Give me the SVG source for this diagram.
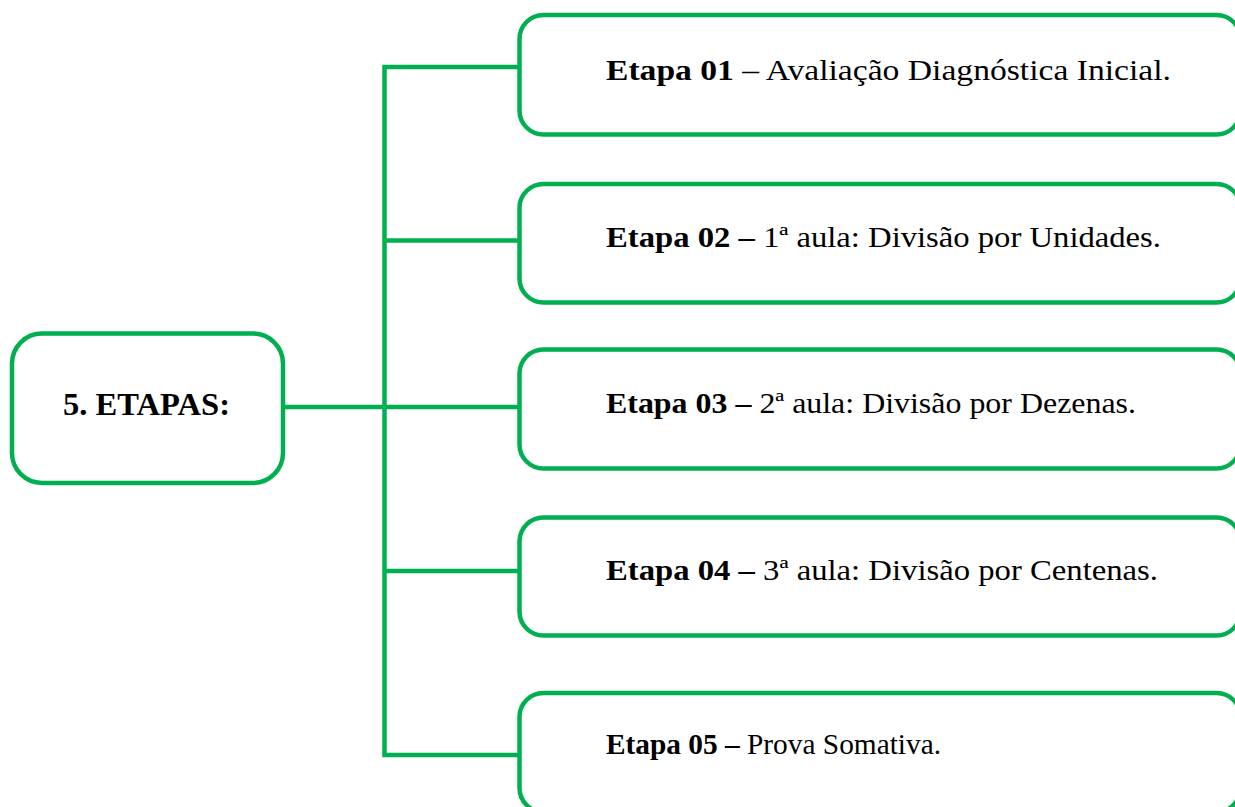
<svg xmlns="http://www.w3.org/2000/svg" width="1235" height="807" viewBox="0 0 1235 807">
<style>
.box{fill:#fff;stroke:#00b050;stroke-width:4.5}
.con{fill:none;stroke:#00b050;stroke-width:4.5}
text{font-family:"Liberation Serif","Times New Roman",serif;fill:#000}
.t{font-size:30px}
.b{font-weight:bold}
.main{font-size:31px;font-weight:bold}
</style>
<g id="connectors">
<path class="con" d="M283,407 H519"/>
<path class="con" d="M519,67 H384.5 V755 H519"/>
<path class="con" d="M384.5,240.5 H519"/>
<path class="con" d="M384.5,571 H519"/>
</g>
<g id="node-main">
<rect class="box" x="12" y="333.5" width="271" height="149.5" rx="30"/>
<text class="main" x="63" y="415" textLength="167" lengthAdjust="spacingAndGlyphs">5. ETAPAS:</text>
</g>
<g id="node-etapa01">
<rect class="box" x="519.5" y="15" width="721" height="119.5" rx="24"/>
<text class="t" x="606" y="80" textLength="565" lengthAdjust="spacingAndGlyphs"><tspan class="b">Etapa 01</tspan> – Avaliação Diagnóstica Inicial.</text>
</g>
<g id="node-etapa02">
<rect class="box" x="519.5" y="184" width="721" height="118.5" rx="24"/>
<text class="t" x="606" y="247" textLength="555" lengthAdjust="spacingAndGlyphs"><tspan class="b">Etapa 02 –</tspan> 1ª aula: Divisão por Unidades.</text>
</g>
<g id="node-etapa03">
<rect class="box" x="519.5" y="349.5" width="721" height="119" rx="24"/>
<text class="t" x="606" y="413" textLength="530" lengthAdjust="spacingAndGlyphs"><tspan class="b">Etapa 03 –</tspan> 2ª aula: Divisão por Dezenas.</text>
</g>
<g id="node-etapa04">
<rect class="box" x="519.5" y="517.5" width="721" height="118" rx="24"/>
<text class="t" x="606" y="580" textLength="552" lengthAdjust="spacingAndGlyphs"><tspan class="b">Etapa 04 –</tspan> 3ª aula: Divisão por Centenas.</text>
</g>
<g id="node-etapa05">
<rect class="box" x="519.5" y="693" width="721" height="119" rx="24"/>
<text class="t" x="606" y="754" textLength="335" lengthAdjust="spacingAndGlyphs"><tspan class="b">Etapa 05 –</tspan> Prova Somativa.</text>
</g>
</svg>
